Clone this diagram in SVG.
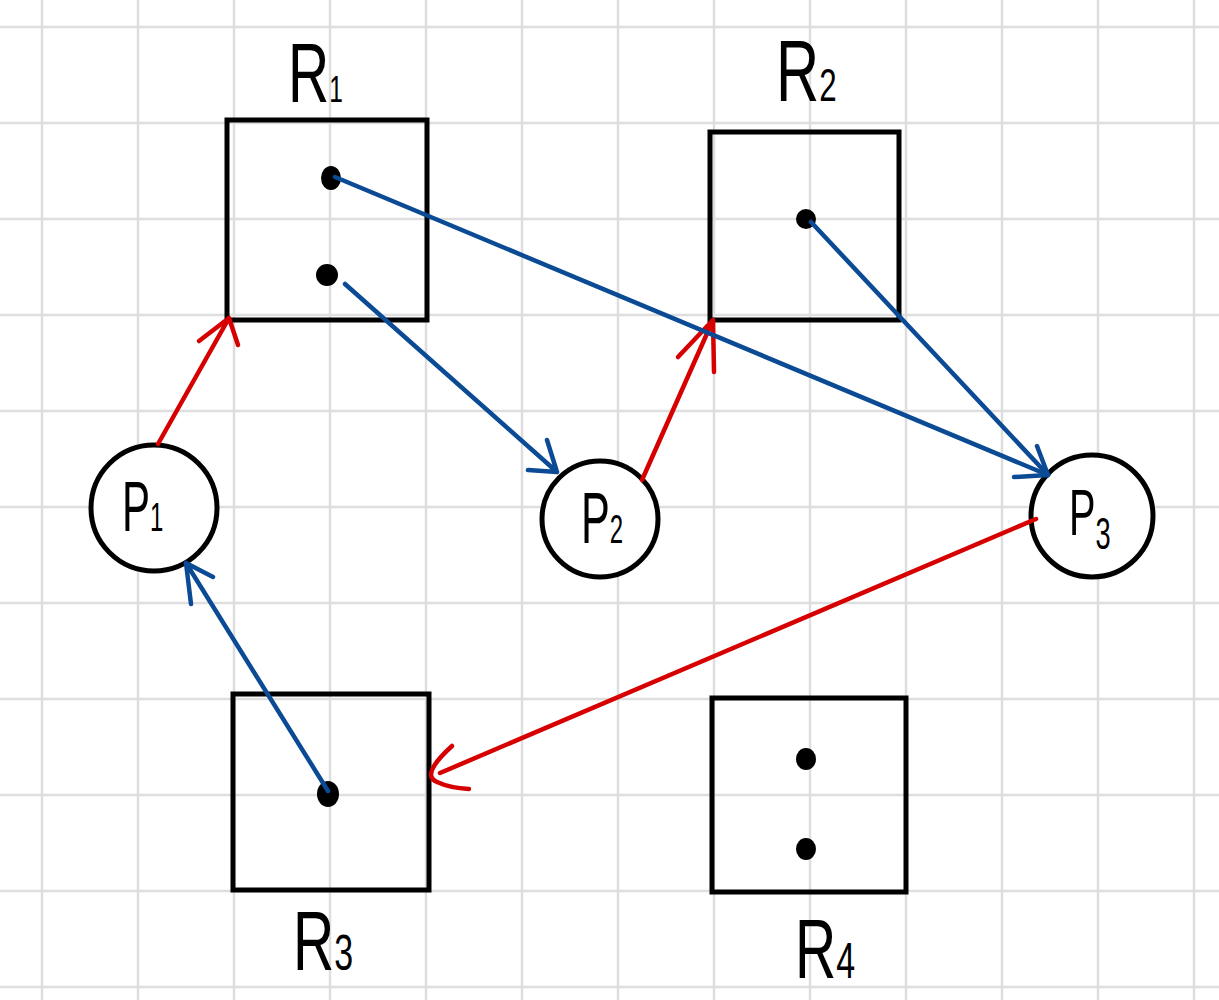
<svg xmlns="http://www.w3.org/2000/svg" width="1219" height="1000" viewBox="0 0 1219 1000">
<style>
.grid line{stroke:#dedede;stroke-width:2.5}
.box{fill:none;stroke:#000;stroke-width:5}
.proc{fill:#fff;stroke:#000;stroke-width:5}
.dot{fill:#000}
.lbl{font-family:"Liberation Sans",Arial,sans-serif;fill:#000}
.req{fill:none;stroke:#d60000;stroke-width:4.5;stroke-linecap:round;stroke-linejoin:round}
.asg{fill:none;stroke:#0b4a94;stroke-width:4.5;stroke-linecap:round;stroke-linejoin:round}
</style>
<rect width="1219" height="1000" fill="#fff"/>
<g class="grid">
<line x1="42" y1="0" x2="42" y2="1000"/><line x1="138" y1="0" x2="138" y2="1000"/><line x1="234" y1="0" x2="234" y2="1000"/><line x1="330" y1="0" x2="330" y2="1000"/><line x1="426" y1="0" x2="426" y2="1000"/><line x1="522" y1="0" x2="522" y2="1000"/><line x1="618" y1="0" x2="618" y2="1000"/><line x1="714" y1="0" x2="714" y2="1000"/><line x1="810" y1="0" x2="810" y2="1000"/><line x1="906" y1="0" x2="906" y2="1000"/><line x1="1002" y1="0" x2="1002" y2="1000"/><line x1="1098" y1="0" x2="1098" y2="1000"/><line x1="1194" y1="0" x2="1194" y2="1000"/>
<line x1="0" y1="27" x2="1219" y2="27"/><line x1="0" y1="123" x2="1219" y2="123"/><line x1="0" y1="219" x2="1219" y2="219"/><line x1="0" y1="315" x2="1219" y2="315"/><line x1="0" y1="411" x2="1219" y2="411"/><line x1="0" y1="507" x2="1219" y2="507"/><line x1="0" y1="603" x2="1219" y2="603"/><line x1="0" y1="699" x2="1219" y2="699"/><line x1="0" y1="795" x2="1219" y2="795"/><line x1="0" y1="891" x2="1219" y2="891"/><line x1="0" y1="987" x2="1219" y2="987"/>
</g>
<g id="R1">
<rect class="box" x="227" y="120" width="200" height="200"/>
<ellipse class="dot" cx="331" cy="178" rx="10" ry="12"/>
<ellipse class="dot" cx="327" cy="275" rx="11" ry="11"/>
<text class="lbl" transform="translate(288,102) scale(0.68,1)" font-size="84">R<tspan font-size="36">1</tspan></text>
</g>
<g id="R2">
<rect class="box" x="710" y="132" width="189" height="188"/>
<ellipse class="dot" cx="806" cy="219" rx="10" ry="10"/>
<text class="lbl" transform="translate(776,101) scale(0.68,1)" font-size="88">R<tspan font-size="46">2</tspan></text>
</g>
<g id="R3">
<rect class="box" x="233" y="694" width="196" height="196"/>
<ellipse class="dot" cx="328" cy="794" rx="11" ry="13"/>
<text class="lbl" transform="translate(293,970) scale(0.68,1)" font-size="84">R<tspan font-size="50">3</tspan></text>
</g>
<g id="R4">
<rect class="box" x="712" y="698" width="194" height="194"/>
<ellipse class="dot" cx="806" cy="759" rx="10" ry="11"/>
<ellipse class="dot" cx="806" cy="849" rx="10" ry="11"/>
<text class="lbl" transform="translate(795,978) scale(0.68,1)" font-size="84">R<tspan font-size="50">4</tspan></text>
</g>
<g id="P1">
<circle class="proc" cx="154" cy="508" r="63"/>
<text class="lbl" transform="translate(122,531) scale(0.6,1)" font-size="70">P<tspan font-size="40">1</tspan></text>
</g>
<g id="P2">
<ellipse class="proc" cx="600" cy="519" rx="58" ry="58"/>
<text class="lbl" transform="translate(581,543) scale(0.6,1)" font-size="72">P<tspan font-size="40">2</tspan></text>
</g>
<g id="P3">
<circle class="proc" cx="1092" cy="516" r="61"/>
<text class="lbl" transform="translate(1069,535) scale(0.62,1)" font-size="64">P<tspan font-size="44" dy="14">3</tspan></text>
</g>
<g id="connectors">
<path class="req" d="M158 444 L229 318 M199 341 L229 318 L238 345"/>
<path class="req" d="M642 480 L713 320 M678 357 L713 320 L714 372"/>
<path class="req" d="M1036 519 L440 773 M452 746 Q420 775 437 782 Q450 788 469 789"/>
<path class="asg" d="M335 177 L1048 475"/>
<path class="asg" d="M811 222 L1048 475"/>
<path class="asg" d="M1037 446 L1048 475 L1014 477"/>
<path class="asg" d="M345 284 L557 472 M547 440 L557 472 L528 470"/>
<path class="asg" d="M328 791 L186 563 M213 577 L186 563 L191 604"/>
</g>
</svg>
